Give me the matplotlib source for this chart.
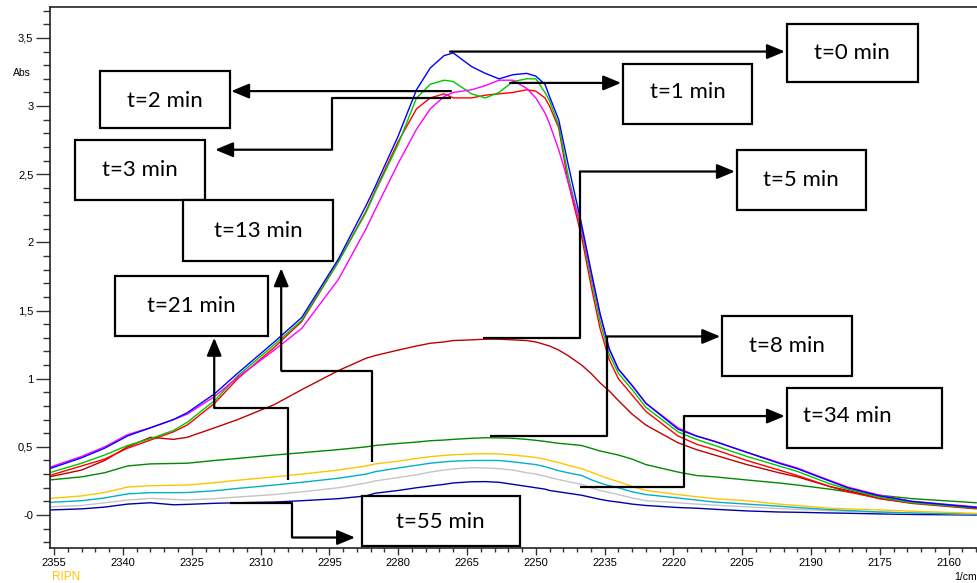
import matplotlib
matplotlib.use("Agg")
import matplotlib.pyplot as plt
from matplotlib.patches import Rectangle
from matplotlib.ticker import MultipleLocator, FixedLocator

# wavenumber grid (1/cm) and absorbance for each time
wavenumber = [2356, 2349, 2344, 2339, 2334, 2329, 2326, 2320, 2315, 2307, 2301, 2293,
              2287, 2285, 2280, 2276, 2273, 2270, 2268, 2264, 2261, 2258, 2255, 2252,
              2250, 2248, 2247, 2245, 2243, 2240, 2238, 2236, 2234, 2232, 2229, 2226,
              2219, 2215, 2211, 2204, 2197, 2193, 2186, 2182, 2175, 2168, 2154]

abs_t0 = [0.34, 0.42, 0.49, 0.58, 0.64, 0.70, 0.75, 0.89, 1.04, 1.27, 1.45, 1.88,
          2.27, 2.41, 2.78, 3.12, 3.28, 3.37, 3.39, 3.29, 3.24, 3.20, 3.23, 3.24,
          3.22, 3.16, 3.07, 2.90, 2.58, 2.13, 1.80, 1.48, 1.22, 1.07, 0.95, 0.82,
          0.63, 0.58, 0.54, 0.46, 0.38, 0.34, 0.25, 0.20, 0.14, 0.10, 0.055]
abs_t1 = [0.31, 0.38, 0.44, 0.51, 0.56, 0.62, 0.68, 0.84, 1.02, 1.25, 1.43, 1.86,
          2.22, 2.37, 2.72, 3.06, 3.16, 3.19, 3.18, 3.09, 3.06, 3.10, 3.18, 3.20,
          3.20, 3.10, 3.04, 2.86, 2.50, 2.08, 1.74, 1.42, 1.18, 1.04, 0.92, 0.79,
          0.61, 0.555, 0.51, 0.43, 0.36, 0.32, 0.23, 0.19, 0.13, 0.09, 0.05]
abs_t2 = [0.35, 0.43, 0.50, 0.59, 0.64, 0.70, 0.74, 0.87, 1.01, 1.21, 1.37, 1.73,
          2.10, 2.24, 2.58, 2.83, 2.98, 3.07, 3.10, 3.12, 3.15, 3.19, 3.19, 3.13,
          3.06, 2.95, 2.87, 2.68, 2.45, 2.10, 1.78, 1.47, 1.22, 1.07, 0.95, 0.82,
          0.64, 0.58, 0.54, 0.46, 0.385, 0.345, 0.255, 0.205, 0.145, 0.10, 0.06]
abs_t3 = [0.29, 0.36, 0.41, 0.49, 0.55, 0.61, 0.66, 0.82, 1.00, 1.23, 1.42, 1.86,
          2.23, 2.38, 2.74, 2.98, 3.06, 3.09, 3.06, 3.06, 3.08, 3.09, 3.10, 3.12,
          3.11, 3.06, 3.00, 2.84, 2.45, 2.04, 1.69, 1.37, 1.14, 1.00, 0.88, 0.76,
          0.58, 0.52, 0.48, 0.40, 0.33, 0.29, 0.21, 0.17, 0.12, 0.085, 0.045]
abs_t5 = [0.28, 0.33, 0.40, 0.50, 0.57, 0.555, 0.57, 0.64, 0.70, 0.81, 0.92, 1.06,
          1.15, 1.17, 1.21, 1.24, 1.26, 1.27, 1.28, 1.285, 1.29, 1.29, 1.285, 1.28,
          1.27, 1.25, 1.24, 1.21, 1.17, 1.10, 1.04, 0.97, 0.91, 0.84, 0.74, 0.66,
          0.53, 0.48, 0.44, 0.37, 0.31, 0.28, 0.21, 0.18, 0.12, 0.09, 0.05]
abs_t8 = [0.257, 0.28, 0.31, 0.36, 0.375, 0.378, 0.38, 0.40, 0.415, 0.44, 0.457, 0.48,
          0.50, 0.51, 0.525, 0.535, 0.545, 0.55, 0.555, 0.563, 0.567, 0.566, 0.563, 0.555,
          0.548, 0.54, 0.535, 0.526, 0.52, 0.51, 0.49, 0.47, 0.455, 0.44, 0.41, 0.37,
          0.315, 0.29, 0.28, 0.257, 0.235, 0.22, 0.19, 0.17, 0.145, 0.12, 0.09]
abs_t13 = [0.122, 0.14, 0.165, 0.205, 0.215, 0.218, 0.22, 0.237, 0.255, 0.28, 0.30, 0.33,
           0.36, 0.375, 0.395, 0.415, 0.428, 0.437, 0.442, 0.448, 0.45, 0.448, 0.44, 0.43,
           0.422, 0.41, 0.40, 0.385, 0.365, 0.34, 0.315, 0.29, 0.265, 0.245, 0.21, 0.18,
           0.15, 0.134, 0.12, 0.105, 0.08, 0.07, 0.05, 0.045, 0.037, 0.028, 0.012]
abs_t21 = [0.093, 0.105, 0.125, 0.155, 0.164, 0.164, 0.165, 0.178, 0.195, 0.22, 0.24, 0.27,
           0.30, 0.318, 0.345, 0.365, 0.38, 0.39, 0.395, 0.40, 0.40, 0.40, 0.39, 0.378,
           0.37, 0.355, 0.345, 0.325, 0.31, 0.29, 0.26, 0.235, 0.215, 0.20, 0.17, 0.15,
           0.125, 0.11, 0.095, 0.08, 0.065, 0.055, 0.04, 0.033, 0.022, 0.015, 0.007]
abs_t34 = [0.06, 0.07, 0.09, 0.11, 0.122, 0.115, 0.11, 0.12, 0.132, 0.15, 0.17, 0.20,
           0.235, 0.25, 0.275, 0.295, 0.315, 0.33, 0.338, 0.347, 0.345, 0.34, 0.33, 0.31,
           0.30, 0.285, 0.275, 0.26, 0.245, 0.225, 0.20, 0.18, 0.165, 0.15, 0.125, 0.105,
           0.09, 0.08, 0.072, 0.06, 0.048, 0.042, 0.032, 0.027, 0.02, 0.014, 0.007]
abs_t55 = [0.037, 0.045, 0.058, 0.08, 0.09, 0.075, 0.078, 0.086, 0.09, 0.095, 0.105, 0.12,
           0.14, 0.16, 0.18, 0.20, 0.213, 0.225, 0.235, 0.244, 0.245, 0.24, 0.225, 0.21,
           0.20, 0.19, 0.18, 0.17, 0.16, 0.145, 0.13, 0.115, 0.103, 0.095, 0.08, 0.07,
           0.055, 0.05, 0.042, 0.03, 0.022, 0.02, 0.015, 0.013, 0.008, 0.004, 0.0]

ytick_values = [0, 0.5, 1, 1.5, 2, 2.5, 3, 3.5]
ytick_labels = ["-0", "0,5", "1", "1,5", "2", "2,5", "3", "3,5"]

# lower curves first so the peak group sits on top
curves = [
    (abs_t55, "#0000a8"),
    (abs_t34, "#c4c4c4"),
    (abs_t21, "#00b0c8"),
    (abs_t13, "#ffc400"),
    (abs_t8, "#008a00"),
    (abs_t5, "#c00000"),
    (abs_t3, "#ff0000"),
    (abs_t1, "#00c800"),
    (abs_t2, "#ff00ff"),
    (abs_t0, "#0000ff"),
]

# label boxes: text, (x0, x1, y0, y1), text position, connector path (last point = arrow tip)
labels = [
    ("t=0 min", (2195.2, 2166.7, 3.18, 3.60), (2181.1, 3.39),
     [(2268.7, 3.40), (2195.7, 3.40)]),
    ("t=1 min", (2231.0, 2202.9, 2.87, 3.31), (2216.8, 3.10),
     [(2255.6, 3.17), (2231.4, 3.17)]),
    ("t=2 min", (2345.0, 2316.6, 2.84, 3.26), (2330.8, 3.04),
     [(2268.5, 3.11), (2316.4, 3.11)]),
    ("t=3 min", (2350.4, 2322.1, 2.31, 2.75), (2336.3, 2.53),
     [(2268.5, 3.06), (2294.4, 3.06), (2294.4, 2.68), (2319.9, 2.68)]),
    ("t=13 min", (2326.9, 2294.2, 1.86, 2.31), (2310.5, 2.08),
     [(2285.7, 0.39), (2285.7, 1.06), (2305.5, 1.06), (2305.5, 1.81)]),
    ("t=21 min", (2341.7, 2308.4, 1.31, 1.75), (2325.1, 1.53),
     [(2304.0, 0.257), (2304.0, 0.785), (2320.1, 0.785), (2320.1, 1.30)]),
    ("t=5 min", (2206.1, 2178.0, 2.24, 2.68), (2192.2, 2.46),
     [(2261.5, 1.30), (2240.4, 1.30), (2240.4, 2.52), (2206.6, 2.52)]),
    ("t=8 min", (2209.4, 2181.1, 1.02, 1.46), (2195.2, 1.24),
     [(2260.0, 0.58), (2234.5, 0.58), (2234.5, 1.31), (2209.8, 1.31)]),
    ("t=34 min", (2195.2, 2161.5, 0.49, 0.93), (2182.0, 0.726),
     [(2240.4, 0.205), (2217.7, 0.205), (2217.7, 0.726), (2195.7, 0.726)]),
    ("t=55 min", (2287.9, 2253.4, -0.23, 0.14), (2270.9, -0.05),
     [(2316.6, 0.088), (2303.1, 0.088), (2303.1, -0.165), (2289.4, -0.165)]),
]

fig = plt.figure(figsize=(9.78, 5.83), dpi=100)
ax = fig.add_axes([50 / 978, 35 / 583, 928 / 978, 541 / 583])

for values, color in curves:
    ax.plot(wavenumber, values, color=color, lw=1.0)

for text, (x0, x1, y0, y1), (tx, ty), path in labels:
    ax.add_patch(Rectangle((x1, y0), x0 - x1, y1 - y0, fill=True, facecolor="white",
                           edgecolor="black", lw=1.6, zorder=5))
    ax.text(tx, ty, text, ha="center", va="center", fontsize=16, family="Lato", zorder=6)
    xs = [p[0] for p in path[:-1]]
    ys = [p[1] for p in path[:-1]]
    ax.plot(xs, ys, color="black", lw=1.6, zorder=4, solid_capstyle="butt")
    ax.annotate("", xy=path[-1], xytext=path[-2],
                arrowprops=dict(arrowstyle="-|>,head_length=0.6,head_width=0.25",
                                color="black", lw=1.6, mutation_scale=18,
                                shrinkA=0, shrinkB=0), zorder=4)

ax.set_xlim(2355.9, 2153.6)
ax.set_ylim(-0.242, 3.727)

ax.xaxis.set_major_locator(MultipleLocator(15))
ax.xaxis.set_minor_locator(MultipleLocator(3))
ax.yaxis.set_major_locator(FixedLocator(ytick_values))
ax.set_yticklabels(ytick_labels)
ax.yaxis.set_minor_locator(MultipleLocator(0.1))

ax.tick_params(axis="y", which="major", length=10, width=1, color="#333333",
               labelsize=8, pad=2)
ax.tick_params(axis="y", which="minor", length=5, width=1, color="#333333")
ax.tick_params(axis="x", which="major", length=5, width=1, color="#333333",
               labelsize=8, pad=2)
ax.tick_params(axis="x", which="minor", length=3, width=1, color="#333333")
for lbl in ax.get_xticklabels() + ax.get_yticklabels():
    lbl.set_family("Liberation Sans")

ax.spines["right"].set_visible(False)
for s in ["left", "bottom", "top"]:
    ax.spines[s].set_linewidth(1.2)
    ax.spines[s].set_color("#222222")

fig.text(22 / 978, 1 - 73 / 583, "Abs", fontsize=7.5, family="Liberation Sans",
         ha="center", va="center")
fig.text(966 / 978, 1 - 577 / 583, "1/cm", fontsize=7.5, family="Liberation Sans",
         ha="center", va="center")
fig.text(66 / 978, 1 - 577 / 583, "RIPN", fontsize=8.5, family="Liberation Sans",
         ha="center", va="center", color="#ffc400")

fig.savefig("out.png", dpi=100)
